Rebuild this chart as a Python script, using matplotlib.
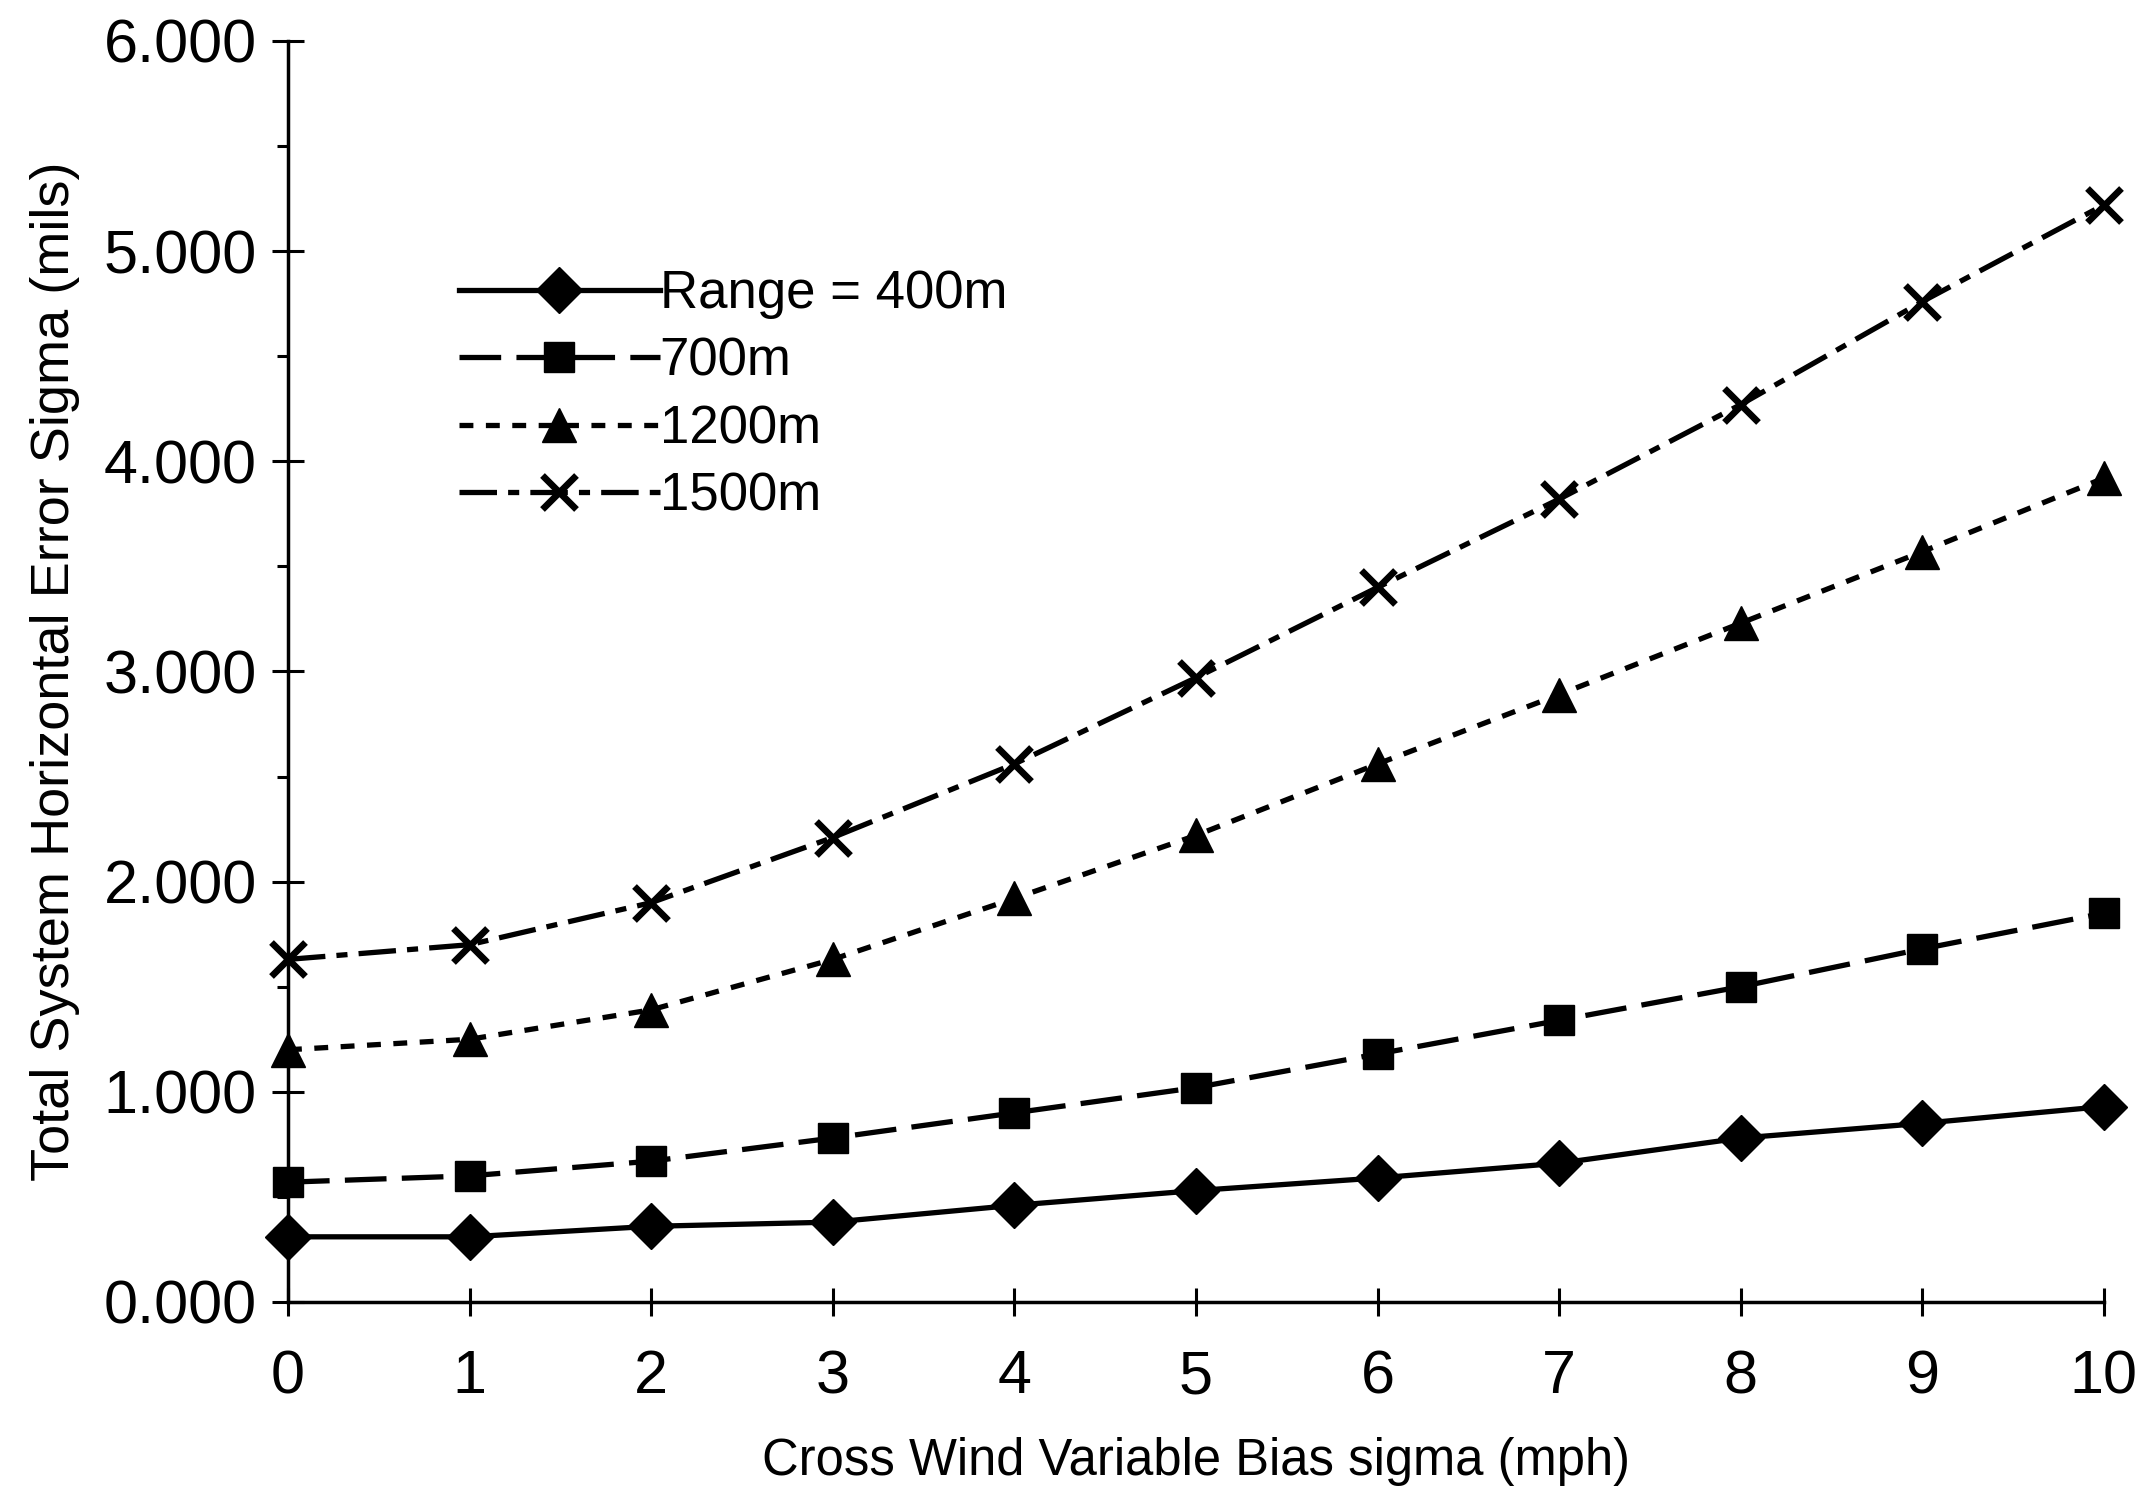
import matplotlib
matplotlib.use("Agg")
import matplotlib.pyplot as plt
from matplotlib.ticker import MultipleLocator, FormatStrFormatter

plt.rcParams['font.family'] = ['Liberation Sans', 'DejaVu Sans']
plt.rcParams['lines.scale_dashes'] = False

x = [0, 1, 2, 3, 4, 5, 6, 7, 8, 9, 10]
range_400 = [0.31, 0.31, 0.36, 0.38, 0.46, 0.53, 0.59, 0.66, 0.78, 0.85, 0.93]
range_700 = [0.57, 0.60, 0.67, 0.78, 0.90, 1.02, 1.18, 1.34, 1.50, 1.68, 1.85]
range_1200 = [1.20, 1.25, 1.39, 1.63, 1.92, 2.22, 2.56, 2.89, 3.23, 3.57, 3.92]
range_1500 = [1.63, 1.70, 1.90, 2.21, 2.56, 2.97, 3.40, 3.82, 4.27, 4.76, 5.22]
labels = ["Range = 400m", "700m", "1200m", "1500m"]

fig = plt.figure(figsize=(21.49, 14.96), dpi=100)
ax = fig.add_axes([0.134, 0.1297, 0.845, 0.8429])

lw = 3.8
ax.plot(x, range_400, color='black', lw=lw, linestyle='-', marker='D', ms=23,
        clip_on=False, label=labels[0])
ax.plot(x, range_700, color='black', lw=lw, linestyle=(0, (30, 11)), marker='s', ms=21,
        clip_on=False, label=labels[1])
ax.plot(x, range_1200, color='black', lw=lw, linestyle=(0, (10, 9)), marker='^', ms=25,
        clip_on=False, label=labels[2])
ax.plot(x, range_1500, color='black', lw=lw, linestyle=(0, (27, 8, 8, 8)), marker='x', ms=25,
        mew=4.8, clip_on=False, label=labels[3])

ax.set_xlim(0, 10)
ax.set_ylim(0, 6)
ax.xaxis.set_major_locator(MultipleLocator(1))
ax.yaxis.set_major_locator(MultipleLocator(1))
ax.yaxis.set_minor_locator(MultipleLocator(0.5))
ax.yaxis.set_major_formatter(FormatStrFormatter('%.3f'))

for s in ['top', 'right']:
    ax.spines[s].set_visible(False)
for s in ['left', 'bottom']:
    ax.spines[s].set_linewidth(2.5)

ax.tick_params(axis='y', which='major', direction='inout', length=23, width=2.2,
               labelsize=44, pad=11)
ax.tick_params(axis='y', which='minor', direction='out', length=8, width=2.2)
ax.tick_params(axis='x', which='major', direction='inout', length=20, width=2.2,
               labelsize=44, pad=24)

ax.set_xlabel("Cross Wind Variable Bias sigma (mph)", fontsize=36.5, labelpad=22)
ax.set_ylabel("Total System Horizontal Error Sigma (mils)", fontsize=39, labelpad=17)

leg = ax.legend(loc='upper left', bbox_to_anchor=(0.2136, 0.82),
                bbox_transform=fig.transFigure, frameon=False, fontsize=38,
                handlelength=3.8, handletextpad=0.0, labelspacing=0.33,
                borderpad=0, borderaxespad=0)

fig.savefig("out.png", dpi=100, facecolor='white')
